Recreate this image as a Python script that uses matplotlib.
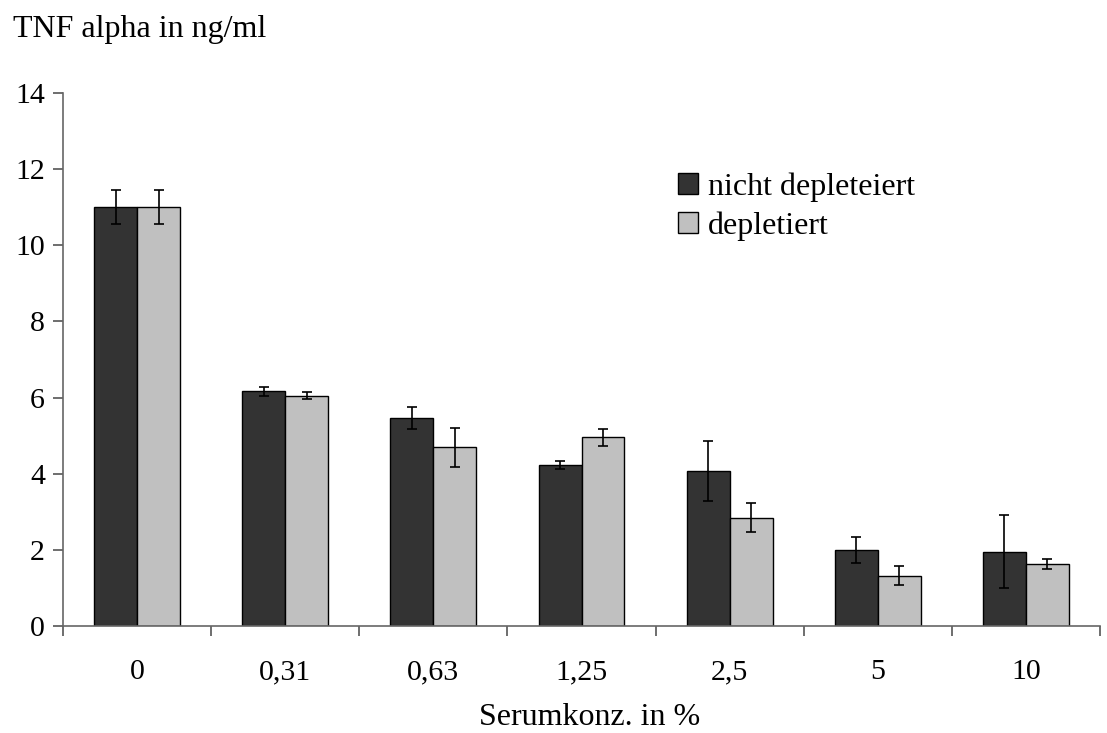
import matplotlib
matplotlib.use("Agg")
import matplotlib.pyplot as plt
import numpy as np

categories = ["0", "0,31", "0,63", "1,25", "2,5", "5", "10"]
nicht_vals = [11.0, 6.16, 5.47, 4.22, 4.07, 1.99, 1.95]
nicht_err = [0.45, 0.12, 0.29, 0.11, 0.78, 0.35, 0.96]
depl_vals = [11.0, 6.05, 4.69, 4.95, 2.84, 1.32, 1.62]
depl_err = [0.45, 0.10, 0.52, 0.22, 0.38, 0.26, 0.13]
series_names = ["nicht depleteiert", "depletiert"]
yticks = [0, 2, 4, 6, 8, 10, 12, 14]

plt.rcParams['font.family'] = ['Liberation Serif', 'DejaVu Serif']
fig = plt.figure(figsize=(11.07, 7.33), dpi=100)
ax = fig.add_axes([63/1107, 1-625.7/733, (1100-63)/1107, (625.7-93.3)/733])

x = np.arange(len(categories))
w = 0.29
ax.bar(x - w/2, nicht_vals, w, color="#333333", edgecolor="black", linewidth=1.0,
       label=series_names[0], zorder=2)
ax.bar(x + w/2, depl_vals, w, color="#c0c0c0", edgecolor="black", linewidth=1.0,
       label=series_names[1], zorder=2)
ax.errorbar(x - w/2, nicht_vals, yerr=nicht_err, fmt="none", ecolor="black",
            elinewidth=1.2, capsize=3.8, capthick=1.2, zorder=3)
ax.errorbar(x + w/2, depl_vals, yerr=depl_err, fmt="none", ecolor="black",
            elinewidth=1.2, capsize=3.8, capthick=1.2, zorder=3)

ax.set_xlim(-0.5, len(categories) - 0.5)
ax.set_ylim(0, 14)
ax.set_yticks(yticks)
ax.set_yticklabels([str(t) for t in yticks])
ax.set_xticks(x)
ax.set_xticklabels(categories)
ax.set_xticks(np.arange(len(categories) + 1) - 0.5, minor=True)
ax.tick_params(axis='x', which='major', length=0, pad=24, labelsize=21.5)
ax.tick_params(axis='x', which='minor', length=7, width=1.2, direction='out', color='#555555')
ax.tick_params(axis='y', length=7, width=1.2, direction='out', pad=6, labelsize=21.5, color='#555555')

for s in ["top", "right"]:
    ax.spines[s].set_visible(False)
for s in ["left", "bottom"]:
    ax.spines[s].set_color("#666666")
    ax.spines[s].set_linewidth(1.2)

fig.text(13/1107, 1-36.7/733, "TNF alpha in ng/ml", fontsize=23, ha="left", va="baseline")
fig.text(590/1107, 1-725/733, "Serumkonz. in %", fontsize=23, ha="center", va="baseline")

leg = ax.legend(loc="upper left", bbox_to_anchor=(0.593, 0.852), frameon=False,
                fontsize=23, handlelength=0.63, handleheight=0.63, handletextpad=0.3,
                labelspacing=0.3, borderaxespad=0, borderpad=0)

fig.savefig("out.png", dpi=100)
